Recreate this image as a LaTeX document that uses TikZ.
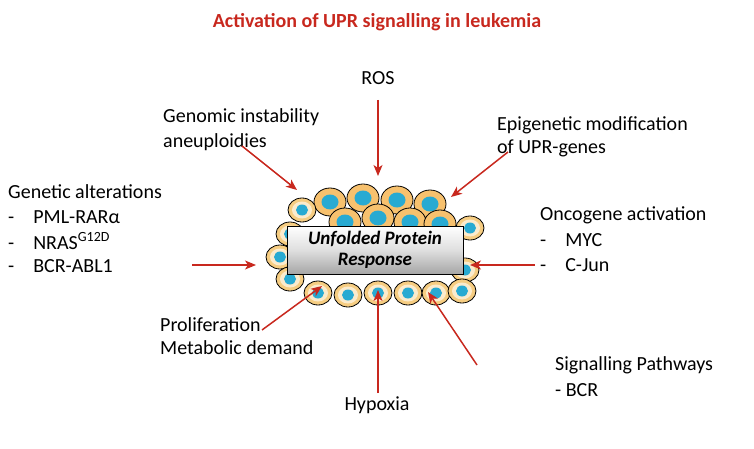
\documentclass[tikz,border=0pt]{standalone}
\usepackage{fontspec}
\setmainfont{Carlito}
\usetikzlibrary{positioning,arrows.meta}
\definecolor{uprred}{RGB}{200,40,30}
\definecolor{cellfill}{RGB}{246,205,130}
\definecolor{nucblue}{RGB}{40,170,210}
\tikzset{
  cell/.pic={\draw[fill=cellfill,line width=0.8pt] (0,0) ellipse (14 and 12);
             \fill[white!60!cellfill] (0,0) ellipse (10 and 8.5);
             \fill[nucblue] (0,0) ellipse (6 and 5.5);},
  tcell/.pic={\draw[fill=cellfill!85!orange,line width=0.8pt] (0,0) ellipse (16 and 14);
             \fill[nucblue] (0,0) ellipse (8.5 and 7.5);},
  lbl/.style={font=\fontsize{20}{24}\selectfont,anchor=west,inner sep=0pt},
  arr/.style={-{Stealth[length=11pt,width=9pt,inset=3pt]},uprred,line width=1.5pt}
}
\begin{document}
\begin{tikzpicture}[x=1pt,y=-1pt]
    \useasboundingbox (0,0) rectangle (754,449);
    \node[font=\fontsize{20}{24}\selectfont\bfseries,text=uprred] (title) at (377,22) {Activation of UPR signalling in leukemia};

    % cells around the box
    \foreach \x/\y in {330/202,363/198,397/200,430/204,345/222,378/218,410/222,440/224}
        \pic at (\x,\y) {tcell};
    \foreach \x/\y in {302/210,290/234,280/257,290/279,470/228,465/270,
                       318/293,348/295,378/293,408/293,436/293,462/291}
        \pic at (\x,\y) {cell};

    \node[draw,line width=0.8pt,top color=white,bottom color=gray!70,middle color=gray!25,
          minimum width=176pt,minimum height=48pt,align=center,inner sep=2pt,
          font=\fontsize{19}{21}\selectfont\bfseries\itshape] (upr) at (375,250) {Unfolded Protein\\Response};

    % labels
    \node[font=\fontsize{20}{24}\selectfont] (ros) at (378,78) {ROS};
    \node[lbl] (genom) at (163,117) {Genomic instability};
    \node[lbl] (aneu) at (163,142) {aneuploidies};
    \node[lbl] (epi) at (497,125) {Epigenetic modification};
    \node[lbl] (epi2) at (497,148) {of UPR-genes};
    \node[lbl] (genet) at (8,192) {Genetic alterations};
    \node[lbl] (pml) at (8,217) {-\hspace{19pt}PML-RARα};
    \node[lbl] (nras) at (8,241) {-\hspace{19pt}NRAS\textsuperscript{G12D}};
    \node[lbl] (bcr) at (8,266) {-\hspace{19pt}BCR-ABL1};
    \node[lbl] (onco) at (540,215) {Oncogene activation};
    \node[lbl] (myc) at (540,240) {-\hspace{19pt}MYC};
    \node[lbl] (cjun) at (540,265) {-\hspace{19pt}C-Jun};
    \node[lbl] (prol) at (160,325) {Proliferation};
    \node[lbl] (meta) at (160,348) {Metabolic demand};
    \node[font=\fontsize{20}{24}\selectfont] (hyp) at (377,405) {Hypoxia};
    \node[lbl] (sig) at (555,365) {Signalling Pathways};
    \node[lbl] (sbcr) at (555,390) {- BCR};

    % arrows
    \coordinate (a1) at (378,100); \coordinate (b1) at (378,176);
    \coordinate (a2) at (242,146); \coordinate (b2) at (297,190);
    \coordinate (a3) at (508,152); \coordinate (b3) at (451,197);
    \coordinate (a4) at (192,265); \coordinate (b4) at (256,265);
    \coordinate (a5) at (535,265); \coordinate (b5) at (470,265);
    \coordinate (a6) at (262,330); \coordinate (b6) at (322,286);
    \coordinate (a7) at (378,393); \coordinate (b7) at (378,290);
    \coordinate (a8) at (477,365); \coordinate (b8) at (428,292);
    \foreach \i in {1,...,8} \draw[arr] (a\i) -- (b\i);
\end{tikzpicture}
\end{document}
